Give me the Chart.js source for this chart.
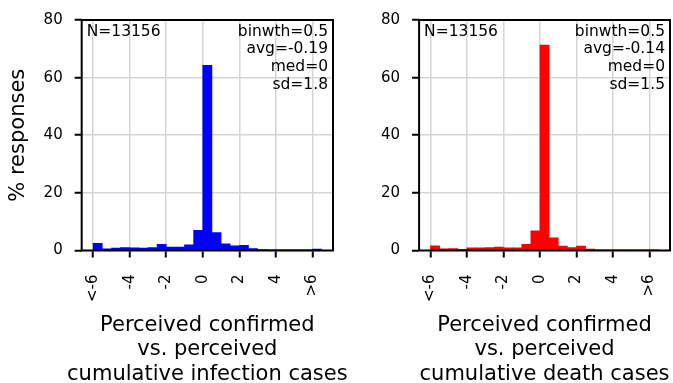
<!DOCTYPE html>
<html>
<head>
<meta charset="utf-8">
<script src="https://cdn.jsdelivr.net/npm/chart.js@4.4.1/dist/chart.umd.min.js"></script>
<style>
  body { margin: 0; background: #fff; overflow: hidden; }
  #wrap { position: relative; width: 673px; height: 383px; overflow: hidden; }
  canvas { position: absolute; top: 0; }
</style>
</head>
<body>
<div id="wrap">
  <canvas id="leftChart" width="362" height="383" style="left:-2px"></canvas>
  <canvas id="rightChart" width="324" height="383" style="left:349px"></canvas>
</div>
<script>
// Bin edges (left side of each 0.5 wide bin)
const binWidth = 0.5;
const binStarts = [-6, -5.5, -5, -4.5, -4, -3.5, -3, -2.5, -2, -1.5, -1, -0.5,
                   0, 0.5, 1, 1.5, 2, 2.5, 3, 3.5, 4, 4.5, 5, 5.5, 6];

// % responses per bin
const infectionPct = [2.5, 0.6, 0.8, 1.0, 0.9, 0.8, 1.0, 2.1, 1.2, 1.2, 2.0, 7.0,
                      64.3, 6.2, 2.3, 1.6, 1.8, 0.7, 0.3, 0.15, 0.1, 0.1, 0.1, 0.1, 0.5];
const deathPct = [1.6, 0.6, 0.7, 0.4, 0.9, 0.9, 1.0, 1.2, 0.9, 0.9, 2.1, 6.8,
                  71.3, 4.4, 1.5, 1.0, 1.5, 0.5, 0.25, 0.1, 0.05, 0.05, 0.05, 0.05, 0.1];

const xTickValues = [-6, -4, -2, 0, 2, 4, 6];
const xTickLabels = ['<-6', '-4', '-2', '0', '2', '4', '>6'];
const yTickStep = 20;

const nLabel = 'N=13156';
const infectionStats = ['binwth=0.5', 'avg=-0.19', 'med=0', 'sd=1.8'];
const deathStats = ['binwth=0.5', 'avg=-0.14', 'med=0', 'sd=1.5'];
const infectionTitle = ['Perceived confirmed', 'vs. perceived', 'cumulative infection cases'];
const deathTitle = ['Perceived confirmed', 'vs. perceived', 'cumulative death cases'];

const FONT = 'DejaVu Sans';

// Cadre complet, annotations et titre de l'axe x (dessiné à la main pour ne pas être compressé)
const framePlugin = {
    id: 'frame',
    afterDraw(chart, args, opts) {
        const ctx = chart.ctx;
        const a = chart.chartArea;
        ctx.save();
        ctx.strokeStyle = '#000';
        ctx.lineWidth = 2;
        ctx.strokeRect(a.left, a.top, a.right - a.left, a.bottom - a.top);

        ctx.fillStyle = '#000';
        ctx.font = '15.5px "' + FONT + '"';
        ctx.textBaseline = 'middle';
        ctx.textAlign = 'left';
        ctx.fillText(nLabel, a.left + 5, a.top + 11.7);
        ctx.textAlign = 'right';
        opts.lines.forEach((line, i) => {
            ctx.fillText(line, a.right - 5, a.top + 11.7 + i * 17.7);
        });

        ctx.font = '21px "' + FONT + '"';
        ctx.textAlign = 'center';
        const cx = (a.left + a.right) / 2;
        opts.title.forEach((line, i) => {
            ctx.fillText(line, cx, a.bottom + 75 + i * 24.5);
        });
        ctx.restore();
    }
};

// Pas de marge automatique : seule layout.padding décide de la zone du graphique
function noAutoPadding(scale) {
    scale.paddingLeft = 0;
    scale.paddingRight = 0;
    scale.paddingTop = 0;
    scale.paddingBottom = 0;
}

function makeChart(canvasId, values, color, stats, title, showYTitle, padding) {
    const points = binStarts.map((b, i) => ({ x: b + binWidth / 2, y: values[i] }));
    return new Chart(document.getElementById(canvasId), {
        type: 'bar',
        data: {
            datasets: [{
                data: points,
                backgroundColor: color,
                borderWidth: 0,
                barPercentage: 1,
                categoryPercentage: 1
            }]
        },
        options: {
            responsive: false,
            animation: false,
            devicePixelRatio: 1,
            layout: { padding: padding },
            plugins: {
                legend: { display: false },
                tooltip: { enabled: false },
                frame: { lines: stats, title: title }
            },
            scales: {
                x: {
                    type: 'linear',
                    offset: false,
                    min: -6.625,
                    max: 7.125,
                    afterBuildTicks: scale => {
                        scale.ticks = xTickValues.map(v => ({ value: v }));
                    },
                    afterFit: noAutoPadding,
                    grid: {
                        offset: false,
                        color: '#d5d5d5',
                        lineWidth: 1.5,
                        tickLength: 7,
                        tickColor: '#000',
                        tickWidth: 2
                    },
                    border: { display: false },
                    ticks: {
                        autoSkip: false,
                        minRotation: 90,
                        maxRotation: 90,
                        padding: 17,
                        color: '#000',
                        font: { family: FONT, size: 15 },
                        callback: v => xTickLabels[xTickValues.indexOf(v)]
                    }
                },
                y: {
                    min: 0,
                    max: 80,
                    afterFit: noAutoPadding,
                    grid: {
                        color: '#d5d5d5',
                        lineWidth: 1.5,
                        tickLength: 7,
                        tickColor: '#000',
                        tickWidth: 2
                    },
                    border: { display: false },
                    ticks: {
                        stepSize: yTickStep,
                        padding: 12,
                        color: '#000',
                        font: { family: FONT, size: 15 }
                    },
                    title: {
                        display: showYTitle,
                        text: '% responses',
                        color: '#000',
                        font: { family: FONT, size: 21, lineHeight: 1.2 },
                        padding: { top: 8.4, bottom: 0 }
                    }
                }
            }
        },
        plugins: [framePlugin]
    });
}

makeChart('leftChart', infectionPct, '#0000ff', infectionStats, infectionTitle, true,
          { left: 0, right: 27, top: 20, bottom: 64 });
makeChart('rightChart', deathPct, '#ff0000', deathStats, deathTitle, false,
          { left: 20, right: 3, top: 20, bottom: 64 });
</script>
</body>
</html>
